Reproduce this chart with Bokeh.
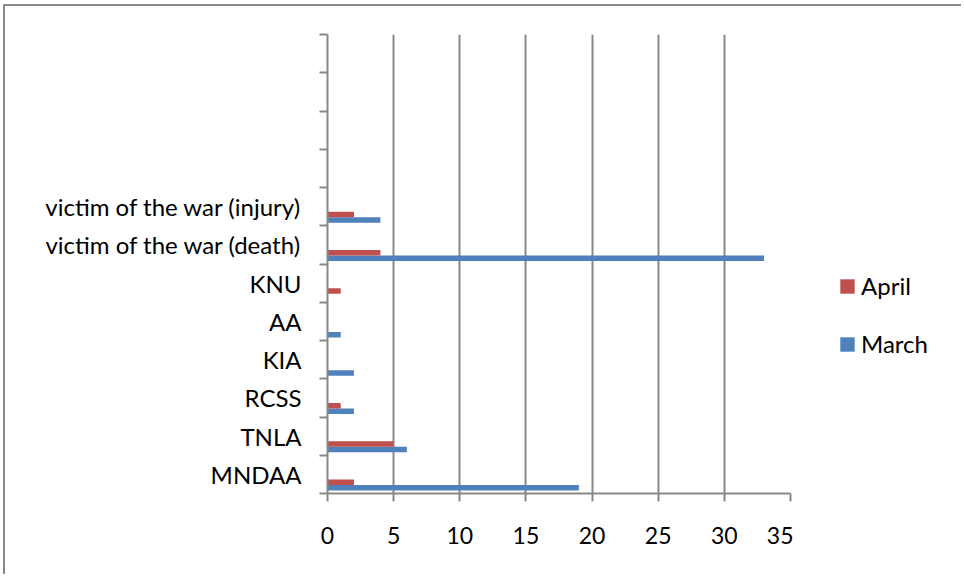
from bokeh.plotting import figure
from bokeh.layouts import row
from bokeh.models import Range1d, FixedTicker, Legend, LegendItem, ColumnDataSource
from bokeh.embed import file_html
from bokeh.resources import INLINE

# ---- data ----
categories = ["MNDAA", "TNLA", "RCSS", "KIA", "AA", "KNU",
              "victim of the war (death)", "victim of the war (injury)"]
n_slots = 12  # Excel category axis has 4 extra empty slots on top
march = [19, 6, 2, 2, 1, 0, 33, 4]
april = [2, 5, 1, 0, 0, 1, 4, 2]
x_ticks = [0, 5, 10, 15, 20, 25, 30, 35]
series_names = ["April", "March"]

RED = "#C0504D"
BLUE = "#4F81BD"
GRAY = "#888888"
BORDER = "2px solid #8a8a8a"
FONT = "Lato"

H = 570
W1, W2 = 790, 168
p = figure(width=W1, height=H, output_backend="svg", toolbar_location=None,
           x_range=Range1d(0, 35), y_range=Range1d(0, n_slots),
           min_border_left=322, min_border_right=5,
           min_border_top=28, min_border_bottom=83)
p.styles = {"border-left": BORDER, "border-top": BORDER}
p.outline_line_color = None
p.background_fill_color = "white"
p.border_fill_color = "white"

idx = list(range(len(categories)))
src = ColumnDataSource(dict(
    idx=idx,
    y_march=[i + 0.15 for i in idx],
    y_april=[i + 0.295 for i in idx],
    march=march, april=april))

bh = 0.144
p.hbar(y="y_march", left=0, right="march", height=bh, source=src,
       fill_color=BLUE, line_color=None)
p.hbar(y="y_april", left=0, right="april", height=bh, source=src,
       fill_color=RED, line_color=None)

# x axis
xa = p.xaxis[0]
xa.ticker = FixedTicker(ticks=x_ticks)
xa.axis_line_color = GRAY
xa.axis_line_width = 2
xa.major_tick_line_color = GRAY
xa.major_tick_line_width = 2
xa.major_tick_out = 8
xa.major_tick_in = 0
xa.minor_tick_line_color = None
xa.major_label_text_font = FONT
xa.major_label_text_font_size = "23px"
xa.major_label_text_color = "#000000"
xa.major_label_standoff = 25

# y axis
ya = p.yaxis[0]
centers = [i + 0.5 for i in idx]
ya.ticker = FixedTicker(ticks=centers, minor_ticks=list(range(n_slots + 1)))
ya.major_label_overrides = {c: lab for c, lab in zip(centers, categories)}
ya.axis_line_color = GRAY
ya.axis_line_width = 2
ya.major_tick_line_color = None
ya.major_tick_out = 0
ya.major_tick_in = 0
ya.minor_tick_line_color = GRAY
ya.minor_tick_line_width = 2
ya.minor_tick_out = 8
ya.minor_tick_in = 0
ya.major_label_text_font = FONT
ya.major_label_text_font_size = "24px"
ya.major_label_text_color = "#000000"
ya.major_label_standoff = 18

p.xgrid.ticker = FixedTicker(ticks=x_ticks)
p.xgrid.grid_line_color = GRAY
p.xgrid.grid_line_width = 2
p.ygrid.grid_line_color = None

# ---- legend panel (separate figure to the right of the plot area) ----
p2 = figure(width=W2, height=H, output_backend="svg", toolbar_location=None,
            x_range=Range1d(0, 1), y_range=Range1d(0, 1),
            x_axis_type=None, y_axis_type=None,
            min_border_left=0, min_border_right=0,
            min_border_top=0, min_border_bottom=0)
p2.styles = {"border-top": BORDER}
p2.outline_line_color = None
p2.grid.visible = False
# legend-key renderers: a single row kept outside the visible range
key_src = ColumnDataSource(dict(y=[-5.0], right=[0.0]))
k_a = p2.hbar(y="y", left=0, right="right", height=0.1, source=key_src,
              fill_color=RED, line_color=None)
k_m = p2.hbar(y="y", left=0, right="right", height=0.1, source=key_src,
              fill_color=BLUE, line_color=None)

legend = Legend(items=[LegendItem(label=series_names[0], renderers=[k_a], index=0),
                       LegendItem(label=series_names[1], renderers=[k_m], index=0)],
                location=(45, 135), orientation="vertical")
legend.padding = 0
legend.margin = 0
legend.border_line_color = None
legend.background_fill_alpha = 0
legend.glyph_width = 18
legend.glyph_height = 18
legend.label_standoff = 5
legend.spacing = 29
legend.label_text_font = FONT
legend.label_text_font_size = "24px"
legend.label_text_color = "#000000"
p2.add_layout(legend, "center")

layout = row(p, p2)
layout.styles = {"margin-left": "3px", "margin-top": "4px"}

open("out.html", "w").write(file_html(layout, INLINE))
